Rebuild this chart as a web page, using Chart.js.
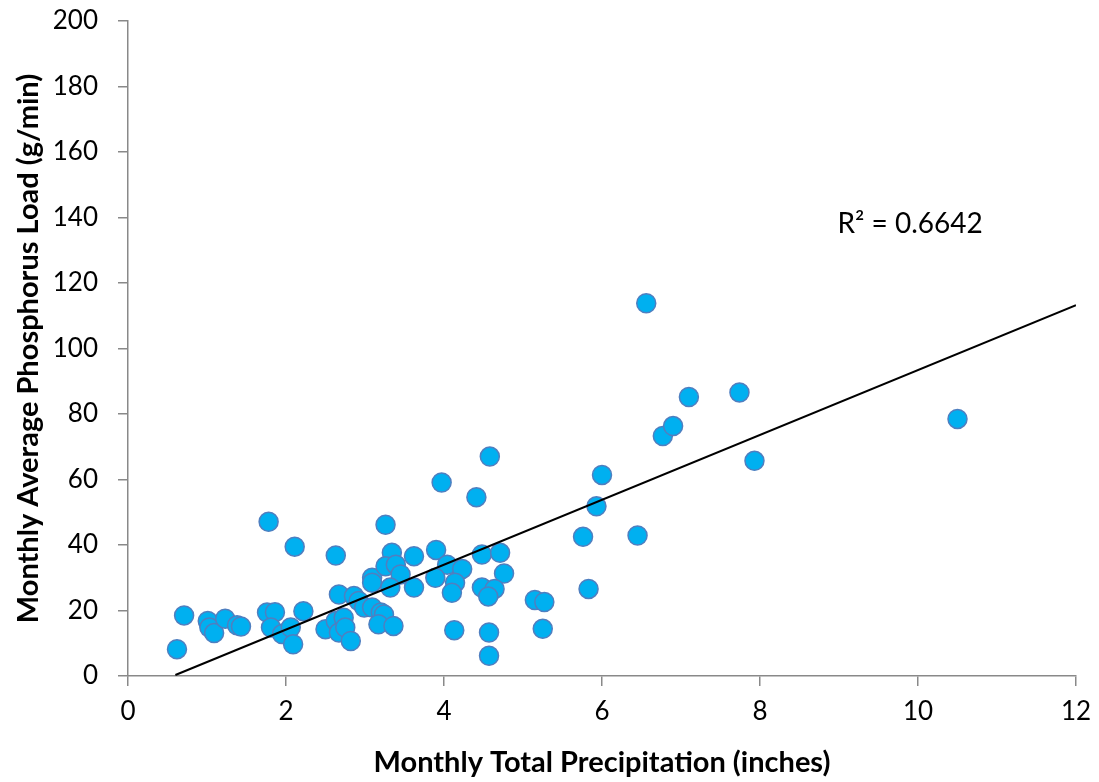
<!DOCTYPE html>
<html>
<head>
<meta charset="utf-8">
<script src="https://cdn.jsdelivr.net/npm/chart.js@4.4.0/dist/chart.umd.min.js"></script>
<style>
  html, body { margin: 0; padding: 0; background: #fff; }
  #wrap { width: 1099px; height: 782px; }
</style>
</head>
<body>
<div id="wrap"><canvas id="grafico" width="1099" height="782"></canvas></div>
<script>
// precipitacion mensual (pulgadas) y carga de fosforo (g/min)
const precipitacion = [
  0.62, 0.71, 1.01, 1.03, 1.09, 1.23, 1.38, 1.43, 1.76, 1.86,
  1.81, 1.78, 1.95, 2.06, 2.09, 2.11, 2.22, 2.50, 2.63, 2.67,
  2.73, 2.75, 2.82, 2.63, 2.67, 2.86, 2.92, 2.99, 3.09, 3.09,
  3.09, 3.20, 3.24, 3.17, 3.36, 3.34, 3.26, 3.39, 3.45, 3.32,
  3.26, 3.62, 3.62, 3.90, 4.04, 4.23, 3.89, 4.14, 4.10, 4.13,
  3.97, 4.41, 4.58, 4.48, 4.71, 4.76, 4.48, 4.64, 4.56, 4.57,
  4.57, 5.15, 5.27, 5.25, 5.76, 5.83, 5.93, 6.00, 6.45, 6.56,
  6.77, 6.90, 7.10, 7.74, 7.93, 10.50
];
const fosforo = [
  8.2, 18.5, 16.8, 14.8, 13.1, 17.5, 15.5, 15.1, 19.4, 19.5,
  14.8, 47.1, 12.8, 14.8, 9.7, 39.5, 19.8, 14.3, 16.8, 13.3,
  17.8, 14.8, 10.7, 36.8, 24.9, 24.4, 22.9, 20.9, 30.0, 28.5,
  20.9, 19.4, 18.8, 15.8, 15.3, 37.6, 33.5, 34.0, 31.0, 27.0,
  46.2, 36.6, 27.0, 38.5, 34.0, 32.7, 30.0, 28.5, 25.4, 14.0,
  59.1, 54.6, 67.0, 37.1, 37.6, 31.3, 27.0, 26.6, 24.3, 13.3,
  6.2, 23.2, 22.6, 14.4, 42.5, 26.6, 51.8, 61.4, 42.9, 113.8,
  73.3, 76.3, 85.2, 86.6, 65.7, 78.5
];
// linea de tendencia
const tendenciaX = [0.6, 12];
const tendenciaY = [0.3, 113.2];
const textoR2 = 'R\u00B2 = 0.6642';
const posR2 = [8.98, 138];

const xTicks = [0, 2, 4, 6, 8, 10, 12];
const yTicks = [0, 20, 40, 60, 80, 100, 120, 140, 160, 180, 200];

const fuente = 'Lato, "Open Sans", sans-serif';
const gris = '#898989';

const puntos = precipitacion.map((x, i) => ({ x: x, y: fosforo[i] }));
const linea = tendenciaX.map((x, i) => ({ x: x, y: tendenciaY[i] }));

const etiquetaR2 = {
  id: 'etiquetaR2',
  afterDatasetsDraw(chart) {
    const ctx = chart.ctx;
    const px = chart.scales.x.getPixelForValue(posR2[0]);
    const py = chart.scales.y.getPixelForValue(posR2[1]);
    ctx.save();
    ctx.font = '28px ' + fuente;
    ctx.fillStyle = '#000';
    ctx.textAlign = 'left';
    ctx.textBaseline = 'middle';
    ctx.fillText(textoR2, px, py);
    ctx.restore();
  }
};

const ctx = document.getElementById('grafico').getContext('2d');
new Chart(ctx, {
  type: 'scatter',
  data: {
    datasets: [
      {
        type: 'line',
        data: linea,
        borderColor: '#000',
        borderWidth: 2,
        pointRadius: 0,
        fill: false
      },
      {
        data: puntos,
        backgroundColor: '#00B0F0',
        borderColor: '#4F7FC0',
        borderWidth: 1.5,
        pointRadius: 9.5,
        pointHoverRadius: 9.5
      }
    ]
  },
  options: {
    responsive: false,
    animation: false,
    layout: { padding: { top: 21, right: 23, left: 0, bottom: 0 } },
    plugins: { legend: { display: false }, tooltip: { enabled: false } },
    scales: {
      x: {
        type: 'linear',
        min: 0, max: 12,
        afterBuildTicks: s => { s.ticks = xTicks.map(v => ({ value: v })); },
        afterFit: s => { s.height = 106; s.paddingLeft = 0; s.paddingRight = 0; },
        grid: { drawOnChartArea: false, color: gris, tickLength: 10, lineWidth: 1.5 },
        border: { color: gris, width: 1.5 },
        ticks: { color: '#000', font: { family: fuente, size: 26 }, padding: 10, maxRotation: 0 },
        title: {
          display: true,
          text: 'Monthly Total Precipitation (inches)',
          color: '#000',
          font: { family: fuente, size: 29, weight: 'bold' },
          padding: { top: 0, bottom: 2 }
        }
      },
      y: {
        type: 'linear',
        min: 0, max: 200,
        afterBuildTicks: s => { s.ticks = yTicks.map(v => ({ value: v })); },
        afterFit: s => { s.width = 128; s.paddingTop = 0; s.paddingBottom = 0; },
        grid: { drawOnChartArea: false, color: gris, tickLength: 10, lineWidth: 1.5 },
        border: { color: gris, width: 1.5 },
        ticks: { color: '#000', font: { family: fuente, size: 26 }, padding: 20 },
        title: {
          display: true,
          text: 'Monthly Average Phosphorus Load (g/min)',
          color: '#000',
          font: { family: fuente, size: 29, weight: 'bold' },
          padding: { top: 11, bottom: 0 }
        }
      }
    }
  },
  plugins: [etiquetaR2]
});
</script>
</body>
</html>
